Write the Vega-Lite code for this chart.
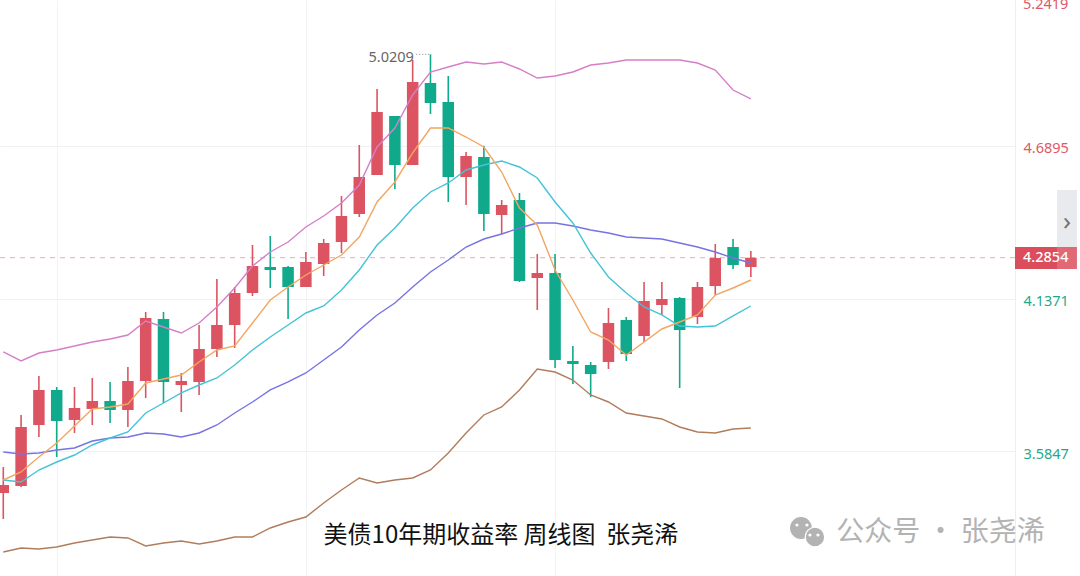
{"$schema":"https://vega.github.io/schema/vega-lite/v6.json","width":1015,"height":576,"autosize":"none","padding":{"left":0,"top":0,"right":65,"bottom":0},"background":"#ffffff","view":{"stroke":null},
"config":{"scale":{"continuousPadding":0,"pointPadding":0},"axis":{"title":null}},
"datasets":{"candles":[
{"i":0,"dir":"up","open":3.4345,"close":3.4634,"high":3.5285,"low":3.3405,"ma5":3.4815,"ma10":3.4815,"ma20":3.5828,"upper":3.9445,"lower":3.2211},
{"i":1,"dir":"up","open":3.4598,"close":3.6733,"high":3.7167,"low":3.4562,"ma5":3.5105,"ma10":3.4743,"ma20":3.5756,"upper":3.9119,"lower":3.2356},
{"i":2,"dir":"up","open":3.6805,"close":3.8071,"high":3.8577,"low":3.637,"ma5":3.5647,"ma10":3.5177,"ma20":3.5792,"upper":3.9408,"lower":3.232},
{"i":3,"dir":"down","open":3.8071,"close":3.6949,"high":3.8179,"low":3.5647,"ma5":3.6153,"ma10":3.5466,"ma20":3.59,"upper":3.9517,"lower":3.2392},
{"i":4,"dir":"up","open":3.6986,"close":3.742,"high":3.8179,"low":3.6515,"ma5":3.6769,"ma10":3.5719,"ma20":3.5973,"upper":3.9662,"lower":3.2537},
{"i":5,"dir":"up","open":3.7384,"close":3.7673,"high":3.8505,"low":3.6805,"ma5":3.7384,"ma10":3.6081,"ma20":3.6226,"upper":3.9806,"lower":3.2645},
{"i":6,"dir":"down","open":3.7673,"close":3.7347,"high":3.836,"low":3.6877,"ma5":3.7456,"ma10":3.6334,"ma20":3.6334,"upper":3.9915,"lower":3.2754},
{"i":7,"dir":"up","open":3.7347,"close":3.8396,"high":3.8902,"low":3.6733,"ma5":3.7564,"ma10":3.6551,"ma20":3.637,"upper":4.0059,"lower":3.2718},
{"i":8,"dir":"up","open":3.8396,"close":4.0674,"high":4.0891,"low":3.7781,"ma5":3.8324,"ma10":3.7239,"ma20":3.6515,"upper":4.0566,"lower":3.2428},
{"i":9,"dir":"down","open":4.0638,"close":3.836,"high":4.0891,"low":3.76,"ma5":3.8468,"ma10":3.76,"ma20":3.6479,"upper":4.0349,"lower":3.2537},
{"i":10,"dir":"up","open":3.8251,"close":3.8396,"high":3.8685,"low":3.7275,"ma5":3.8613,"ma10":3.7962,"ma20":3.637,"upper":4.0132,"lower":3.2609},
{"i":11,"dir":"up","open":3.836,"close":3.9553,"high":4.0421,"low":3.789,"ma5":3.9083,"ma10":3.8251,"ma20":3.6515,"upper":4.0493,"lower":3.2501},
{"i":12,"dir":"up","open":3.9553,"close":4.0421,"high":4.2084,"low":3.9264,"ma5":3.9517,"ma10":3.8505,"ma20":3.6805,"upper":4.1072,"lower":3.2609},
{"i":13,"dir":"up","open":4.0421,"close":4.1578,"high":4.1795,"low":3.9589,"ma5":3.9662,"ma10":3.8974,"ma20":3.7239,"upper":4.1759,"lower":3.2754},
{"i":14,"dir":"up","open":4.1578,"close":4.2554,"high":4.3315,"low":4.147,"ma5":4.0493,"ma10":3.9517,"ma20":3.7636,"upper":4.2554,"lower":3.2754},
{"i":15,"dir":"down","open":4.2518,"close":4.241,"high":4.364,"low":4.1759,"ma5":4.1325,"ma10":3.9987,"ma20":3.8071,"upper":4.3062,"lower":3.3079},
{"i":16,"dir":"down","open":4.2518,"close":4.1795,"high":4.2554,"low":4.0638,"ma5":4.1795,"ma10":4.0421,"ma20":3.836,"upper":4.3423,"lower":3.3296},
{"i":17,"dir":"up","open":4.1795,"close":4.27,"high":4.3062,"low":4.1795,"ma5":4.223,"ma10":4.0855,"ma20":3.8685,"upper":4.3965,"lower":3.3477},
{"i":18,"dir":"up","open":4.2627,"close":4.3387,"high":4.3531,"low":4.2193,"ma5":4.2591,"ma10":4.1108,"ma20":3.9155,"upper":4.4363,"lower":3.3983},
{"i":19,"dir":"up","open":4.3423,"close":4.4363,"high":4.5087,"low":4.3025,"ma5":4.2953,"ma10":4.1687,"ma20":3.9625,"upper":4.4833,"lower":3.4453},
{"i":20,"dir":"up","open":4.4435,"close":4.5774,"high":4.6931,"low":4.4327,"ma5":4.3604,"ma10":4.241,"ma20":4.024,"upper":4.5484,"lower":3.4887},
{"i":21,"dir":"up","open":4.5846,"close":4.8124,"high":4.8956,"low":4.5846,"ma5":4.487,"ma10":4.3315,"ma20":4.0783,"upper":4.6859,"lower":3.4706},
{"i":22,"dir":"down","open":4.798,"close":4.6207,"high":4.798,"low":4.5339,"ma5":4.5593,"ma10":4.3929,"ma20":4.1217,"upper":4.7546,"lower":3.4815},
{"i":23,"dir":"up","open":4.6207,"close":4.9209,"high":5.0005,"low":4.6207,"ma5":4.6642,"ma10":4.4652,"ma20":4.1795,"upper":4.8739,"lower":3.4887},
{"i":24,"dir":"down","open":4.9173,"close":4.845,"high":5.0209,"low":4.8052,"ma5":4.7546,"ma10":4.5231,"ma20":4.2338,"upper":4.9571,"lower":3.5177},
{"i":25,"dir":"down","open":4.8486,"close":4.5774,"high":4.9426,"low":4.487,"ma5":4.7546,"ma10":4.5557,"ma20":4.2771,"upper":4.9752,"lower":3.5792},
{"i":26,"dir":"up","open":4.5774,"close":4.6533,"high":4.6678,"low":4.476,"ma5":4.722,"ma10":4.6027,"ma20":4.3242,"upper":4.9933,"lower":3.6515},
{"i":27,"dir":"down","open":4.6497,"close":4.4435,"high":4.6903,"low":4.382,"ma5":4.6859,"ma10":4.6207,"ma20":4.3531,"upper":4.986,"lower":3.7167},
{"i":28,"dir":"up","open":4.44,"close":4.476,"high":4.4942,"low":4.3712,"ma5":4.5954,"ma10":4.6352,"ma20":4.3712,"upper":4.9933,"lower":3.7456},
{"i":29,"dir":"down","open":4.4942,"close":4.2012,"high":4.5195,"low":4.1976,"ma5":4.4652,"ma10":4.6135,"ma20":4.3929,"upper":4.968,"lower":3.8071},
{"i":30,"dir":"up","open":4.212,"close":4.2302,"high":4.2989,"low":4.0964,"ma5":4.4038,"ma10":4.5737,"ma20":4.411,"upper":4.9354,"lower":3.883},
{"i":31,"dir":"down","open":4.2302,"close":3.9155,"high":4.2989,"low":3.8866,"ma5":4.241,"ma10":4.487,"ma20":4.411,"upper":4.9426,"lower":3.8721},
{"i":32,"dir":"down","open":3.9119,"close":3.901,"high":3.9662,"low":3.8287,"ma5":4.1325,"ma10":4.411,"ma20":4.4001,"upper":4.9571,"lower":3.8432},
{"i":33,"dir":"down","open":3.8974,"close":3.8649,"high":3.9083,"low":3.7817,"ma5":4.0168,"ma10":4.3025,"ma20":4.3857,"upper":4.9824,"lower":3.789},
{"i":34,"dir":"up","open":3.9083,"close":4.0493,"high":4.1036,"low":3.883,"ma5":3.9878,"ma10":4.2157,"ma20":4.3748,"upper":4.9897,"lower":3.7636},
{"i":35,"dir":"down","open":4.0602,"close":3.9372,"high":4.071,"low":3.9119,"ma5":3.9336,"ma10":4.1578,"ma20":4.3604,"upper":5.0005,"lower":3.7239},
{"i":36,"dir":"up","open":4.0023,"close":4.1289,"high":4.1976,"low":3.9806,"ma5":3.9806,"ma10":4.1072,"ma20":4.3568,"upper":5.0005,"lower":3.713},
{"i":37,"dir":"up","open":4.1144,"close":4.1361,"high":4.1976,"low":4.0783,"ma5":4.0277,"ma10":4.0783,"ma20":4.3531,"upper":5.0005,"lower":3.7022},
{"i":38,"dir":"down","open":4.1397,"close":4.024,"high":4.1433,"low":3.8143,"ma5":4.053,"ma10":4.0385,"ma20":4.3387,"upper":5.0005,"lower":3.6733},
{"i":39,"dir":"up","open":4.071,"close":4.1795,"high":4.1976,"low":4.0457,"ma5":4.0783,"ma10":4.0349,"ma20":4.3242,"upper":4.9897,"lower":3.6551},
{"i":40,"dir":"up","open":4.1831,"close":4.2844,"high":4.335,"low":4.1506,"ma5":4.1506,"ma10":4.0385,"ma20":4.3062,"upper":4.9643,"lower":3.6515},
{"i":41,"dir":"down","open":4.3242,"close":4.2591,"high":4.3531,"low":4.2446,"ma5":4.1759,"ma10":4.0747,"ma20":4.2844,"upper":4.892,"lower":3.666},
{"i":42,"dir":"up","open":4.2518,"close":4.2854,"high":4.3097,"low":4.2157,"ma5":4.2048,"ma10":4.1108,"ma20":4.2663,"upper":4.8595,"lower":3.6696}
]},
"layer":[
{"data":{"values":[{"price":4.2854}]},"mark":{"type":"rule","color":"#eaa9b0","strokeWidth":1,"strokeDash":[5,5]},
 "encoding":{"y":{"field":"price","type":"quantitative","scale":{"domain":[3.1343,5.2175],"nice":false,"zero":false,"padding":0},
  "axis":{"orient":"right","title":null,"values":[3.5847,4.1371,4.6895],"format":".4f","grid":true,"gridColor":"#f1f1f3","gridWidth":1,"domain":true,"domainColor":"#eeeeef","ticks":false,"labelFont":"Noto Sans","labelFontSize":14.5,"labelPadding":8,"labelOffset":3,"labelOverlap":false,"labelColor":{"expr":"datum.value > 4.4 ? '#dc5a67' : '#1fa98c'"}}}}},
{"data":{"name":"candles"},"mark":{"type":"rule","strokeWidth":1.6},
 "encoding":{"x":{"field":"i","type":"quantitative","scale":{"domain":[-0.185,56.84],"nice":false,"zero":false,"padding":0},
   "axis":{"orient":"bottom","title":null,"values":[3,17,31],"grid":true,"gridColor":"#f3f3f5","domain":false,"ticks":false,"labels":false}},
  "y":{"field":"high","type":"quantitative"},"y2":{"field":"low"},
  "color":{"field":"dir","type":"nominal","legend":null,"scale":{"domain":["up","down"],"range":["#dc5461","#10a98b"]}}}},
{"data":{"name":"candles"},"mark":{"type":"bar","size":11.5},
 "encoding":{"x":{"field":"i","type":"quantitative"},"y":{"field":"open","type":"quantitative"},"y2":{"field":"close"},
  "color":{"field":"dir","type":"nominal","legend":null}}},
{"data":{"name":"candles"},"mark":{"type":"line","color":"#d57fc9","strokeWidth":1.4},"encoding":{"x":{"field":"i","type":"quantitative"},"y":{"field":"upper","type":"quantitative"}}},
{"data":{"name":"candles"},"mark":{"type":"line","color":"#b07d5c","strokeWidth":1.4},"encoding":{"x":{"field":"i","type":"quantitative"},"y":{"field":"lower","type":"quantitative"}}},
{"data":{"name":"candles"},"mark":{"type":"line","color":"#7673e2","strokeWidth":1.4},"encoding":{"x":{"field":"i","type":"quantitative"},"y":{"field":"ma20","type":"quantitative"}}},
{"data":{"name":"candles"},"mark":{"type":"line","color":"#45c3d6","strokeWidth":1.4},"encoding":{"x":{"field":"i","type":"quantitative"},"y":{"field":"ma10","type":"quantitative"}}},
{"data":{"name":"candles"},"mark":{"type":"line","color":"#f3a662","strokeWidth":1.4},"encoding":{"x":{"field":"i","type":"quantitative"},"y":{"field":"ma5","type":"quantitative"}}},
{"data":{"values":[{"a":23.2,"b":24,"price":5.0209}]},"mark":{"type":"rule","color":"#8a8a8a","strokeWidth":1,"strokeDash":[1,2]},
 "encoding":{"x":{"field":"a","type":"quantitative"},"x2":{"field":"b"},"y":{"field":"price","type":"quantitative"}}},
{"data":{"values":[{"i":23.07,"at":5.0077,"label":"5.0209"}]},"mark":{"type":"text","align":"right","baseline":"middle","font":"Noto Sans","fontSize":14.5,"color":"#666666"},
 "encoding":{"x":{"field":"i","type":"quantitative"},"y":{"field":"at","type":"quantitative"},"text":{"field":"label"}}},
{"data":{"values":[{"i":57.29,"at":5.199,"label":"5.2419"}]},"mark":{"type":"text","align":"left","baseline":"middle","font":"Noto Sans","fontSize":14.5,"color":"#dc5a67"},
 "encoding":{"x":{"field":"i","type":"quantitative"},"y":{"field":"at","type":"quantitative"},"text":{"field":"label"}}},
{"data":{"values":[{"a":59.2,"b":60.32,"top":4.5303,"bottom":4.3242}]},"mark":{"type":"rect","color":"#e9eaed"},
 "encoding":{"x":{"field":"a","type":"quantitative"},"x2":{"field":"b"},"y":{"field":"top","type":"quantitative"},"y2":{"field":"bottom"}}},
{"data":{"values":[{"a":56.84,"b":60.32,"top":4.3242,"bottom":4.2446}]},"mark":{"type":"rect","color":"#dc4d5c"},
 "encoding":{"x":{"field":"a","type":"quantitative"},"x2":{"field":"b"},"y":{"field":"top","type":"quantitative"},"y2":{"field":"bottom"}}},
{"data":{"values":[{"a":59.2,"b":60.32,"top":4.3242,"bottom":4.2446}]},"mark":{"type":"rect","color":"#ffffff","opacity":0.16},
 "encoding":{"x":{"field":"a","type":"quantitative"},"x2":{"field":"b"},"y":{"field":"top","type":"quantitative"},"y2":{"field":"bottom"}}},
{"data":{"values":[{"i":57.29,"at":4.2826,"label":"4.2854"}]},"mark":{"type":"text","align":"left","baseline":"middle","font":"Noto Sans","fontSize":14.5,"fontWeight":500,"color":"#ffffff"},
 "encoding":{"x":{"field":"i","type":"quantitative"},"y":{"field":"at","type":"quantitative"},"text":{"field":"label"}}},
{"data":{"values":[{"i":59.76,"at":4.4147,"label":"›"}]},"mark":{"type":"text","align":"center","baseline":"middle","font":"Noto Sans","fontSize":26,"color":"#6f7378"},
 "encoding":{"x":{"field":"i","type":"quantitative"},"y":{"field":"at","type":"quantitative"},"text":{"field":"label"}}},
{"data":{"values":[{"i":27.96,"at":3.279,"label":"美债10年期收益率 周线图\u00a0\u00a0张尧浠"}]},"mark":{"type":"text","align":"center","baseline":"middle","font":"Noto Sans CJK SC","fontSize":24,"color":"#111111"},
 "encoding":{"x":{"field":"i","type":"quantitative"},"y":{"field":"at","type":"quantitative"},"text":{"field":"label"}}},
{"data":{"values":[{"i":52.65,"at":3.2899,"label":"公众号 · 张尧浠"}]},"mark":{"type":"text","align":"center","baseline":"middle","font":"Noto Sans CJK SC","fontSize":28,"color":"#b3b3b3"},
 "encoding":{"x":{"field":"i","type":"quantitative"},"y":{"field":"at","type":"quantitative"},"text":{"field":"label"}}},
{"data":{"values":[{"i":44.815,"at":3.3079,"r":531,"c":"#b3b3b3"},{"i":45.6,"at":3.2754,"r":380,"c":"#b3b3b3"}]},"mark":{"type":"point","shape":"circle","filled":true,"opacity":1,"stroke":"#ffffff","strokeWidth":1.2},
 "encoding":{"x":{"field":"i","type":"quantitative"},"y":{"field":"at","type":"quantitative"},"size":{"field":"r","type":"quantitative","legend":null,"scale":null},"fill":{"field":"c","type":"nominal","legend":null,"scale":null}}},
{"data":{"values":[{"i":44.59,"at":3.3188},{"i":45.15,"at":3.3188},{"i":45.32,"at":3.2826},{"i":45.77,"at":3.2826}]},"mark":{"type":"point","shape":"circle","filled":true,"opacity":1,"color":"#ffffff","size":10},
 "encoding":{"x":{"field":"i","type":"quantitative"},"y":{"field":"at","type":"quantitative"}}}
]}
